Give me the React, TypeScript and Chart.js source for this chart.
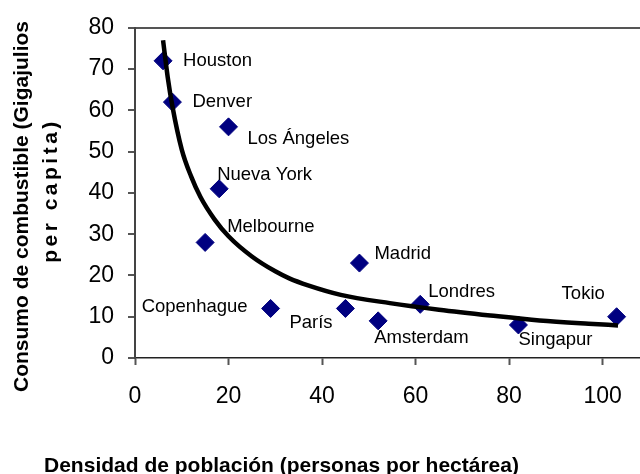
import React, { useEffect, useRef } from "react";
import { Chart, registerables } from "chart.js";

Chart.register(...registerables);

// ---- data ----
const cities = [
  "Houston", "Denver", "Los Ángeles", "Nueva York", "Melbourne", "Copenhague",
  "París", "Madrid", "Amsterdam", "Londres", "Singapur", "Tokio",
];
const density = [6, 8, 20, 18, 15, 29, 45, 48, 52, 61, 82, 103];
const fuel = [72, 62, 56, 41, 28, 12, 12, 23, 9, 13, 8, 10];

// trend line
const trendX = [6, 7, 8, 10, 12, 14, 17, 20, 25, 30, 33, 37, 44, 54.5, 65, 76, 86.5, 97, 103.3];
const trendY = [77, 68, 61, 50.5, 44, 39, 33.6, 29.5, 24.6, 21.0, 19.3, 17.6, 15.3, 13.3, 11.7, 10.3, 9.1, 8.3, 7.9];

const xTitle = "Densidad de población (personas por hectárea)";
const yTitleLines = ["Consumo de combustible (Gigajulios", "per capita)"];

// label offsets (layout only): [dx to left edge, dy to text middle]
const labelOffsets: [number, number][] = [
  [20, 0], [20, 0], [19, 12], [-2, -14], [22, -16], [-23, -2],
  [-56, 14], [15, -9], [-4, 17], [8, -12], [0, 15], [-55, -23],
];

const FONT = '"Liberation Sans", Arial, sans-serif';

const overlayPlugin = {
  id: "overlay",
  afterDatasetsDraw(chart: any) {
    const ctx = chart.ctx;
    const meta = chart.getDatasetMeta(1);
    ctx.save();
    ctx.fillStyle = "#000";
    ctx.font = `18.5px ${FONT}`;
    ctx.textBaseline = "middle";
    meta.data.forEach((el: any, i: number) => {
      const [dx, dy] = labelOffsets[i];
      ctx.textAlign = i === 5 ? "right" : "left";
      ctx.fillText(cities[i], el.x + dx, el.y + dy);
    });
    ctx.restore();
  },
  afterDraw(chart: any) {
    const ctx = chart.ctx;
    ctx.save();
    ctx.fillStyle = "#000";
    ctx.font = `bold 21px ${FONT}`;
    ctx.textAlign = "center";
    ctx.textBaseline = "alphabetic";
    ctx.fillText(xTitle, 281.5, 472);
    const pos: [number, number][] = [[28, 206.5], [57, 190.5]];
    const spacing = ["0px", "3.5px"];
    yTitleLines.forEach((line, i) => {
      ctx.save();
      ctx.translate(pos[i][0], pos[i][1]);
      ctx.rotate(-Math.PI / 2);
      (ctx as any).letterSpacing = spacing[i];
      ctx.fillText(line, 0, 0);
      ctx.restore();
    });
    ctx.restore();
  },
};

export default function App() {
  const ref = useRef<HTMLCanvasElement>(null);
  useEffect(() => {
    document.body.style.margin = "0";
    const chart = new Chart(ref.current!, {
      type: "scatter",
      data: {
        datasets: [
          {
            type: "line",
            data: trendX.map((x, i) => ({ x, y: trendY[i] })),
            borderColor: "#000",
            borderWidth: 4.5,
            pointRadius: 0,
            tension: 0.4,
            cubicInterpolationMode: "monotone",
            fill: false,
            order: 0,
          } as any,
          {
            data: density.map((x, i) => ({ x, y: fuel[i] })),
            pointStyle: "rectRot",
            pointRadius: 9,
            backgroundColor: "#000080",
            borderColor: "#000080",
            borderWidth: 1,
            order: 1,
          },
        ],
      },
      options: {
        responsive: false,
        animation: false,
        layout: { autoPadding: false, padding: { top: 24, right: 0, bottom: 0, left: 0 } },
        plugins: { legend: { display: false }, tooltip: { enabled: false } },
        scales: {
          x: {
            type: "linear",
            min: 0,
            max: 108,
            ticks: {
              stepSize: 20,
              includeBounds: false,
              color: "#000",
              font: { family: FONT, size: 23 },
              padding: 18,
              maxRotation: 0,
            },
            grid: {
              drawOnChartArea: false,
              tickLength: 7,
              tickColor: "#555",
              tickWidth: 2,
            },
            border: { color: "#222", width: 1.5 },
            afterFit(scale: any) {
              scale.height = 116;
            },
          },
          y: {
            type: "linear",
            min: 0,
            max: 80,
            ticks: {
              stepSize: 10,
              color: "#000",
              font: { family: FONT, size: 23 },
              padding: 14,
            },
            grid: {
              color: (c: any) => (c.tick && c.tick.value === 80 ? "#555" : "rgba(0,0,0,0)"),
              lineWidth: 2,
              tickLength: 7,
              tickColor: "#555",
              tickWidth: 2,
            },
            border: { color: "#444", width: 2 },
            afterFit(scale: any) {
              scale.width = 135;
            },
          },
        },
      },
      plugins: [overlayPlugin],
    });
    return () => chart.destroy();
  }, []);
  return <canvas ref={ref} width={640} height={474} style={{ display: "block" }} />;
}
